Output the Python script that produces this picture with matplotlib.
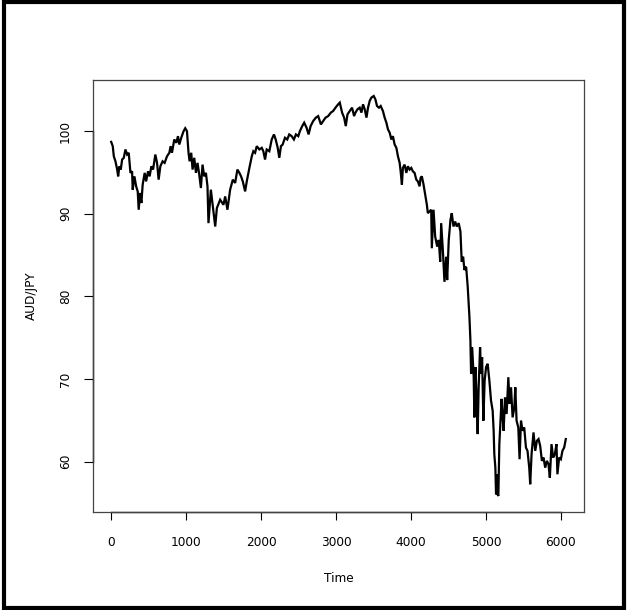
import matplotlib
matplotlib.use("Agg")
import matplotlib.pyplot as plt
from matplotlib.patches import Rectangle

# AUD/JPY daily series (observation index, rate)
time_idx = [
    0, 21, 35, 57, 80, 93, 110, 128, 146, 168, 190, 213, 234, 257, 279, 287,
    310, 333, 354, 367, 386, 403, 420, 447, 466, 492, 513, 536, 559, 589, 612,
    633, 656, 686, 713, 745, 776, 793, 811, 842, 869, 891, 909, 935, 966, 988,
    1011, 1032, 1046, 1068, 1086, 1108, 1131, 1152, 1175, 1197, 1219, 1241,
    1264, 1285, 1298, 1330, 1357, 1388, 1410, 1454, 1498, 1521, 1551, 1587,
    1623, 1654, 1684, 1711, 1733, 1756, 1787, 1809, 1844, 1876, 1897, 1920,
    1942, 1977, 2009, 2030, 2053, 2075, 2110, 2142, 2172, 2195, 2222, 2243,
    2265, 2288, 2319, 2349, 2376, 2408, 2438, 2465, 2496, 2518, 2549, 2575,
    2607, 2634, 2661, 2695, 2731, 2762, 2798, 2828, 2860, 2895, 2931, 2961,
    2993, 3028, 3050, 3081, 3108, 3130, 3153, 3183, 3214, 3241, 3259, 3286,
    3316, 3339, 3360, 3383, 3406, 3427, 3449, 3472, 3503, 3525, 3547, 3573,
    3596, 3626, 3649, 3672, 3693, 3716, 3738, 3759, 3782, 3805, 3826, 3849,
    3862, 3879, 3892, 3915, 3938, 3959, 3982, 4004, 4025, 4048, 4071, 4092,
    4115, 4128, 4145, 4168, 4190, 4212, 4225, 4270, 4278, 4301, 4323, 4350,
    4371, 4390, 4403, 4425, 4447, 4470, 4483, 4504, 4527, 4544, 4567, 4590,
    4611, 4637, 4660, 4677, 4696, 4713, 4736, 4757, 4780, 4793, 4802, 4816,
    4837, 4846, 4860, 4877, 4890, 4903, 4922, 4935, 4949, 4966, 4983, 5002,
    5023, 5046, 5068, 5090, 5103, 5112, 5126, 5135, 5148, 5156, 5166, 5179,
    5192, 5209, 5223, 5236, 5255, 5276, 5299, 5316, 5335, 5356, 5379, 5392,
    5409, 5432, 5449, 5468, 5489, 5511, 5534, 5555, 5578, 5591, 5609, 5635,
    5658, 5680, 5702, 5724, 5747, 5768, 5791, 5813, 5835, 5853, 5875, 5897,
    5920, 5941, 5954, 5977, 6000, 6021, 6044, 6066,
]
aud_jpy = [
    98.7, 98.18, 96.96, 96.35, 95.35, 94.53, 95.75, 95.35, 96.56, 96.77, 97.78,
    97.17, 97.38, 94.95, 95.14, 92.92, 94.53, 93.32, 92.71, 90.49, 92.52, 91.30,
    93.52, 94.95, 93.92, 95.14, 94.53, 95.75, 95.35, 97.17, 96.16, 94.13, 95.75,
    96.35, 96.16, 96.96, 97.38, 98.18, 97.38, 98.99, 98.59, 99.39, 98.38, 99.20,
    100.0, 100.35, 100.0, 97.38, 96.35, 97.38, 95.35, 96.77, 94.95, 96.16,
    94.74, 93.12, 95.95, 94.53, 94.95, 93.32, 88.87, 92.92, 90.89, 88.46, 90.69,
    91.70, 91.09, 92.10, 90.49, 92.92, 94.13, 93.73, 95.35, 94.95, 94.53, 93.92,
    92.71, 93.92, 95.55, 96.96, 97.57, 97.38, 98.18, 97.78, 97.98, 97.57, 96.56,
    97.78, 97.57, 98.99, 99.60, 98.99, 97.98, 96.77, 98.18, 98.38, 99.20, 98.99,
    99.60, 99.39, 98.99, 99.60, 99.39, 100.0, 100.61, 101.02, 100.41, 99.60,
    100.61, 101.22, 101.63, 101.82, 100.81, 101.22, 101.63, 101.82, 102.24,
    102.43, 102.84, 103.24, 103.45, 102.24, 101.63, 100.61, 102.03, 102.43,
    102.84, 101.82, 102.24, 102.64, 102.84, 102.24, 103.24, 102.64, 101.63,
    102.84, 103.65, 104.06, 104.25, 103.85, 103.04, 102.84, 103.04, 102.43,
    101.63, 101.02, 100.21, 99.81, 98.99, 99.39, 98.38, 97.98, 96.96, 96.16,
    95.14, 93.52, 95.55, 95.95, 94.95, 95.75, 95.35, 95.55, 95.14, 94.95, 94.13,
    93.92, 93.32, 94.34, 94.53, 93.52, 92.31, 91.09, 90.08, 90.49, 85.83, 90.49,
    87.24, 86.03, 86.84, 84.20, 88.87, 85.63, 81.77, 84.81, 81.98, 86.84, 89.27,
    90.08, 88.46, 89.06, 88.46, 88.87, 87.85, 84.20, 84.81, 83.20, 83.60, 81.17,
    77.52, 74.69, 70.64, 73.88, 70.23, 65.37, 71.45, 67.40, 63.35, 69.01, 73.88,
    70.64, 72.66, 64.97, 69.83, 71.45, 71.86, 69.83, 67.40, 66.18, 63.75, 60.92,
    59.29, 56.06, 58.49, 56.06, 55.86, 62.14, 64.57, 67.61, 65.37, 63.75, 67.80,
    65.78, 70.23, 67.00, 69.01, 65.37, 66.58, 69.01, 64.97, 64.15, 60.31, 64.97,
    63.75, 64.15, 61.72, 61.32, 59.29, 57.28, 60.92, 63.55, 61.32, 62.54, 62.75,
    61.93, 60.11, 60.51, 59.29, 60.11, 59.71, 58.08, 62.14, 60.51, 60.92, 62.14,
    58.49, 60.51, 60.31, 61.32, 61.72, 62.75,
]
x_ticks = [0, 1000, 2000, 3000, 4000, 5000, 6000]
y_ticks = [60, 70, 80, 90, 100]

W, H = 628, 610
fig = plt.figure(figsize=(W / 100, H / 100), dpi=100)
fig.patch.set_facecolor("white")

left, right, top, bottom = 93, 584, 80, 512
ax = fig.add_axes([left / W, 1 - bottom / H, (right - left) / W, (bottom - top) / H])

ax.plot(time_idx, aud_jpy, color="black", lw=1.6, solid_joinstyle="miter")

# R-style 4% padding around the data range
xmin, xmax = 0, max(time_idx)
ymin, ymax = min(aud_jpy), max(aud_jpy)
px, py = 0.04 * (xmax - xmin), 0.04 * (ymax - ymin)
ax.set_xlim(xmin - px, xmax + px)
ax.set_ylim(ymin - py, ymax + py)

for s in ax.spines.values():
    s.set_color("#444444")
    s.set_linewidth(0.9)

ax.set_xticks(x_ticks)
ax.set_yticks(y_ticks)
ax.set_xticklabels([str(v) for v in x_ticks], fontsize=8.7, va="center")
ax.set_yticklabels([str(v) for v in y_ticks], fontsize=8.7, rotation=90,
                   ha="center", va="center")
ax.tick_params(axis="x", length=5.8, width=0.8, pad=16, color="black")
ax.tick_params(axis="y", length=6.7, width=0.8, pad=13, color="black")

# axis lines spanning only the tick range
ax.plot([x_ticks[0], x_ticks[-1]], [0, 0], color="black", lw=1.0,
        transform=ax.get_xaxis_transform(), clip_on=False)
ax.plot([0, 0], [y_ticks[0], y_ticks[-1]], color="black", lw=1.0,
        transform=ax.get_yaxis_transform(), clip_on=False)

fig.text((left + right) / 2 / W, 1 - 578 / H, "Time", ha="center", va="center",
         fontsize=8.7)
fig.text(31.7 / W, 1 - (top + bottom) / 2 / H, "AUD/JPY", ha="center",
         va="center", rotation=90, fontsize=8.7)

# outer frame
fig.patches.append(Rectangle((4 / W, 2 / H), (W - 8) / W, (H - 4) / H,
                             transform=fig.transFigure, fill=False,
                             edgecolor="black", linewidth=3))

fig.savefig("out.png", dpi=100)
